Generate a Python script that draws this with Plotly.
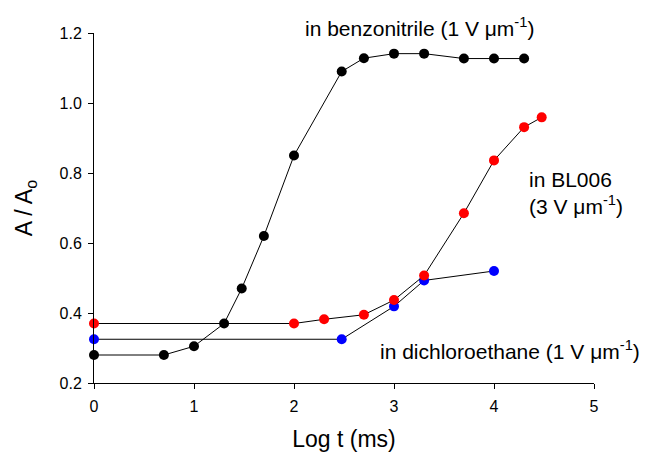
import plotly.graph_objects as go

# Data (x = log10 of time in ms)
bz_x = [0, 0.699, 1.0, 1.301, 1.477, 1.699, 2.0, 2.477, 2.699, 3.0, 3.301, 3.699, 4.0, 4.301]
bz_y = [0.28, 0.28, 0.305, 0.37, 0.47, 0.62, 0.85, 1.09, 1.128, 1.141, 1.141, 1.127, 1.127, 1.127]

bl_x = [0, 2.0, 2.301, 2.699, 3.0, 3.301, 3.699, 4.0, 4.301, 4.477]
bl_y = [0.37, 0.37, 0.382, 0.395, 0.437, 0.507, 0.685, 0.836, 0.931, 0.959]

dc_x = [0, 2.477, 3.0, 3.301, 4.0]
dc_y = [0.325, 0.325, 0.419, 0.493, 0.52]

x_ticks = [0, 1, 2, 3, 4, 5]
y_ticks = [0.2, 0.4, 0.6, 0.8, 1.0, 1.2]

FONT = "Liberation Sans, Arial, sans-serif"

fig = go.Figure()
for xs, ys, col in [(dc_x, dc_y, "#0000ff"), (bl_x, bl_y, "#ff0000"), (bz_x, bz_y, "#000000")]:
    fig.add_trace(go.Scatter(
        x=xs, y=ys, mode="lines+markers",
        line=dict(color="black", width=1),
        marker=dict(color=col, size=10, line=dict(width=0)),
        cliponaxis=False, showlegend=False,
    ))

fig.update_layout(
    width=650, height=456,
    margin=dict(l=94, r=56, t=33, b=73),
    paper_bgcolor="white", plot_bgcolor="white",
    font=dict(family=FONT, color="black"),
    xaxis=dict(
        range=[0, 5], tickvals=x_ticks, ticktext=[str(v) for v in x_ticks],
        showgrid=False, zeroline=False, showline=True, linecolor="black", linewidth=1,
        ticks="outside", ticklen=5, tickwidth=1, tickcolor="black",
        tickfont=dict(size=16, family=FONT), ticklabelstandoff=4, automargin=False,
        title=dict(text="Log t (ms)", font=dict(size=23, family=FONT), standoff=16),
    ),
    yaxis=dict(
        range=[0.2, 1.2], tickvals=y_ticks, ticktext=[f"{v:.1f}" for v in y_ticks],
        showgrid=False, zeroline=False, showline=True, linecolor="black", linewidth=1,
        ticks="outside", ticklen=5, tickwidth=1, tickcolor="black",
        tickfont=dict(size=16, family=FONT), ticklabelstandoff=3, automargin=False,
        title=dict(text="A / A<sub>o</sub>", font=dict(size=23, family=FONT), standoff=20),
    ),
)

ann_font = dict(size=21, family=FONT, color="black")
fig.add_annotation(x=2.09, y=1.017, xref="x", yref="paper", xanchor="left", yanchor="middle",
                   text="in benzonitrile (1 V μm<sup>-1</sup>)", showarrow=False, font=ann_font)
fig.add_annotation(x=4.33, y=0.743, xref="x", yref="y", xanchor="left", yanchor="middle", align="left",
                   text="in BL006<br>(3 V μm<sup>-1</sup>)", showarrow=False, font=ann_font)
fig.add_annotation(x=2.84, y=0.294, xref="x", yref="y", xanchor="left", yanchor="middle",
                   text="in dichloroethane (1 V μm<sup>-1</sup>)", showarrow=False, font=ann_font)

fig.write_html("out.html")
